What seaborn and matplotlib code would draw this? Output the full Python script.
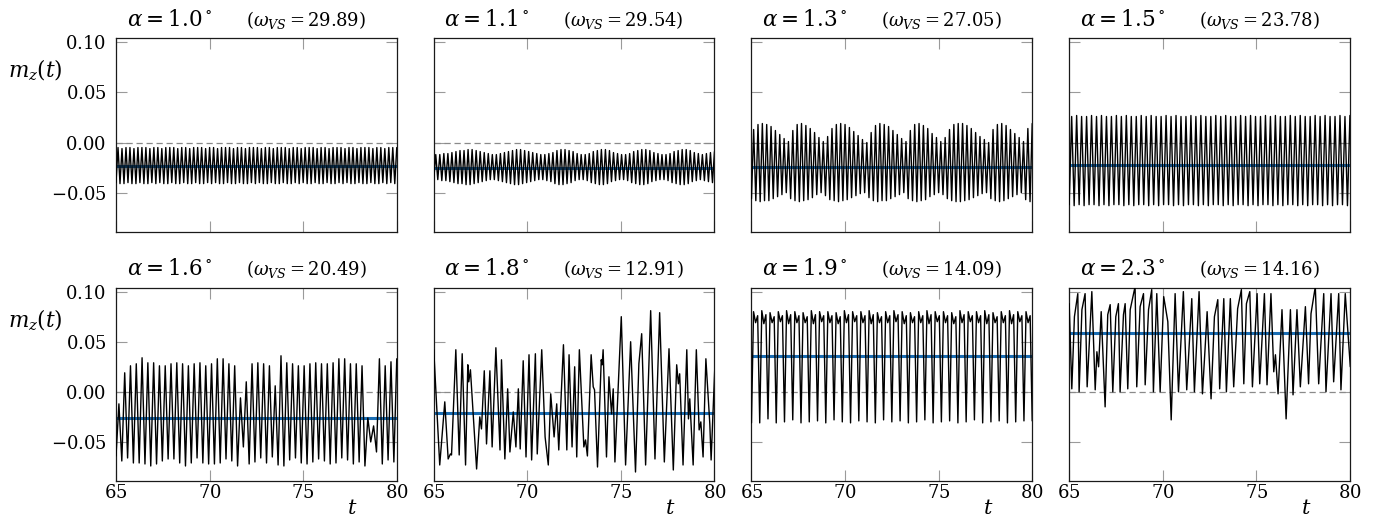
import numpy as np
import matplotlib
matplotlib.use("Agg")
import matplotlib.pyplot as plt
import seaborn as sns
from matplotlib.ticker import FuncFormatter

# ---------------- data ----------------
alphas = ["1.0", "1.1", "1.3", "1.5", "1.6", "1.8", "1.9", "2.3"]
omegas = ["29.89", "29.54", "27.05", "23.78", "20.49", "12.91", "14.09", "14.16"]
mean_levels = [-0.023, -0.025, -0.024, -0.022, -0.026, -0.021, 0.036, 0.059]
x_ticks = [65, 70, 75, 80]
y_ticks = [-0.05, 0.0, 0.05, 0.10]

# alpha = 1.0 : peak / trough values of each cycle
p1_peaks = [-0.005, -0.006, -0.005, -0.005, -0.006, -0.005, -0.005, -0.005, -0.006, -0.005,
            -0.005, -0.006, -0.005, -0.005, -0.005, -0.006, -0.005, -0.005, -0.006, -0.005,
            -0.005, -0.005, -0.006, -0.005, -0.005, -0.006, -0.005, -0.005, -0.005, -0.006,
            -0.005, -0.005, -0.006, -0.005, -0.005, -0.005, -0.006, -0.005, -0.005, -0.006,
            -0.005, -0.005, -0.005, -0.006, -0.005, -0.005, -0.006, -0.005, -0.005, -0.005,
            -0.006, -0.005, -0.005, -0.006, -0.005, -0.005, -0.005, -0.006, -0.005, -0.005,
            -0.006, -0.005, -0.005, -0.005, -0.006, -0.005, -0.005, -0.006, -0.005, -0.005,
            -0.005]
p1_troughs = [-0.040, -0.041, -0.041, -0.040, -0.041, -0.041, -0.040, -0.041, -0.041, -0.040,
              -0.041, -0.040, -0.041, -0.041, -0.040, -0.041, -0.041, -0.040, -0.041, -0.041,
              -0.040, -0.041, -0.041, -0.040, -0.041, -0.040, -0.041, -0.041, -0.040, -0.041,
              -0.041, -0.040, -0.041, -0.041, -0.040, -0.041, -0.040, -0.041, -0.041, -0.040,
              -0.041, -0.041, -0.040, -0.041, -0.041, -0.040, -0.041, -0.040, -0.041, -0.041,
              -0.040, -0.041, -0.041, -0.040, -0.041, -0.041, -0.040, -0.041, -0.040, -0.041,
              -0.041, -0.040, -0.041, -0.041, -0.040, -0.041, -0.041, -0.040, -0.041, -0.040,
              -0.041]

# alpha = 1.1
p2_peaks = [-0.012, -0.012, -0.011, -0.011, -0.010, -0.009, -0.008, -0.008, -0.007, -0.007,
            -0.008, -0.009, -0.010, -0.011, -0.012, -0.012, -0.011, -0.010, -0.009, -0.008,
            -0.007, -0.007, -0.008, -0.009, -0.010, -0.011, -0.012, -0.012, -0.011, -0.010,
            -0.008, -0.007, -0.007, -0.008, -0.009, -0.011, -0.012, -0.012, -0.011, -0.009,
            -0.008, -0.007, -0.007, -0.008, -0.010, -0.011, -0.012, -0.012, -0.011, -0.009,
            -0.008, -0.007, -0.007, -0.008, -0.010, -0.011, -0.012, -0.012, -0.011, -0.009,
            -0.008, -0.007, -0.007, -0.008, -0.010, -0.011, -0.012, -0.011, -0.010, -0.009]
p2_troughs = [-0.037, -0.037, -0.038, -0.038, -0.039, -0.040, -0.041, -0.041, -0.042, -0.042,
              -0.041, -0.040, -0.039, -0.038, -0.037, -0.037, -0.038, -0.039, -0.040, -0.041,
              -0.042, -0.042, -0.041, -0.040, -0.039, -0.038, -0.037, -0.037, -0.038, -0.039,
              -0.041, -0.042, -0.042, -0.041, -0.040, -0.038, -0.037, -0.037, -0.038, -0.040,
              -0.041, -0.042, -0.042, -0.041, -0.039, -0.038, -0.037, -0.037, -0.038, -0.040,
              -0.041, -0.042, -0.042, -0.041, -0.039, -0.038, -0.037, -0.037, -0.038, -0.040,
              -0.041, -0.042, -0.042, -0.041, -0.039, -0.038, -0.037, -0.038, -0.039, -0.040]

# alpha = 1.3 (beating amplitude)
p3_peaks = [0.013, 0.018, 0.019, 0.018, 0.016, 0.012, 0.008, 0.004, 0.001,
            0.012, 0.018, 0.019, 0.017, 0.014, 0.010, 0.005, 0.001,
            0.006, 0.014, 0.018, 0.019, 0.018, 0.015, 0.011, 0.007, 0.003, 0.000,
            0.010, 0.017, 0.019, 0.018, 0.016, 0.012, 0.008, 0.004, 0.001,
            0.012, 0.018, 0.019, 0.017, 0.014, 0.009, 0.005, 0.001,
            0.005, 0.013, 0.018, 0.019, 0.019, 0.017, 0.014, 0.010, 0.006, 0.003, 0.000,
            0.013, 0.018, 0.019, 0.017, 0.013, 0.009, 0.005, 0.001,
            0.014, 0.019]
p3_troughs = [-0.056, -0.058, -0.059, -0.058, -0.058, -0.056, -0.054, -0.052, -0.050,
              -0.056, -0.058, -0.059, -0.058, -0.057, -0.055, -0.052, -0.050,
              -0.053, -0.057, -0.058, -0.059, -0.058, -0.057, -0.055, -0.053, -0.051, -0.050,
              -0.055, -0.058, -0.059, -0.058, -0.058, -0.056, -0.054, -0.052, -0.050,
              -0.056, -0.058, -0.059, -0.058, -0.057, -0.054, -0.052, -0.050,
              -0.052, -0.056, -0.058, -0.059, -0.059, -0.058, -0.057, -0.055, -0.053, -0.051, -0.050,
              -0.056, -0.058, -0.059, -0.058, -0.056, -0.054, -0.052, -0.050,
              -0.057, -0.059]

# alpha = 1.5
p4_peaks = [0.026, 0.027, 0.026, 0.026, 0.027, 0.026, 0.027, 0.026, 0.026, 0.027,
            0.026, 0.027, 0.026, 0.026, 0.027, 0.026, 0.027, 0.026, 0.026, 0.027,
            0.026, 0.027, 0.026, 0.026, 0.027, 0.026, 0.027, 0.026, 0.026, 0.027,
            0.026, 0.027, 0.026, 0.026, 0.027, 0.026, 0.027, 0.026, 0.026, 0.027,
            0.026, 0.027, 0.026, 0.026, 0.027, 0.026, 0.027, 0.026, 0.026, 0.027,
            0.026, 0.027, 0.026, 0.026, 0.027, 0.026, 0.027]
p4_troughs = [-0.062, -0.063, -0.062, -0.063, -0.062, -0.062, -0.063, -0.062, -0.063, -0.062,
              -0.062, -0.063, -0.062, -0.063, -0.062, -0.062, -0.063, -0.062, -0.063, -0.062,
              -0.062, -0.063, -0.062, -0.063, -0.062, -0.062, -0.063, -0.062, -0.063, -0.062,
              -0.062, -0.063, -0.062, -0.063, -0.062, -0.062, -0.063, -0.062, -0.063, -0.062,
              -0.062, -0.063, -0.062, -0.063, -0.062, -0.062, -0.063, -0.062, -0.063, -0.062,
              -0.062, -0.063, -0.062, -0.063, -0.062, -0.062, -0.063]

# alpha = 1.6
p5_peaks = [-0.012, 0.019, 0.026, 0.028, 0.034, 0.029, 0.029, 0.026, 0.026, 0.028,
            0.029, 0.028, 0.026, 0.028, 0.029, 0.026, 0.028, 0.033, 0.033, 0.028,
            0.026, -0.006, 0.010, 0.028, 0.029, 0.028, 0.026, 0.006, 0.036, 0.029,
            0.028, 0.026, 0.026, 0.028, 0.029, 0.028, 0.028, 0.029, 0.033, 0.033,
            0.028, 0.028, 0.026, -0.026, -0.034, 0.033, 0.026, 0.030, 0.033]
p5_troughs = [-0.064, -0.069, -0.066, -0.071, -0.071, -0.072, -0.074, -0.072, -0.069, -0.067,
              -0.067, -0.071, -0.074, -0.071, -0.066, -0.071, -0.072, -0.072, -0.071, -0.067,
              -0.069, -0.074, -0.055, -0.072, -0.070, -0.066, -0.071, -0.065, -0.073, -0.074,
              -0.068, -0.066, -0.071, -0.072, -0.070, -0.067, -0.069, -0.072, -0.071, -0.066,
              -0.068, -0.072, -0.070, -0.074, -0.050, -0.060, -0.072, -0.068, -0.070]

# alpha = 1.8 (irregular: time / value of each turning point)
p6_t = [65.00, 65.32, 65.59, 65.77, 65.89, 65.95, 66.18, 66.36, 66.52, 66.70,
        66.82, 66.87, 66.96, 67.29, 67.46, 67.55, 67.70, 67.82, 68.00, 68.12,
        68.32, 68.54, 68.62, 68.80, 68.95, 69.07, 69.25, 69.39, 69.52, 69.62,
        69.78, 69.93, 70.09, 70.23, 70.43, 70.53, 70.77, 70.95, 71.12, 71.25,
        71.43, 71.57, 71.68, 71.93, 72.11, 72.23, 72.39, 72.53, 72.64, 72.78,
        73.02, 73.11, 73.21, 73.41, 73.52, 73.59, 73.75, 73.95, 74.00, 74.05,
        74.23, 74.36, 74.50, 74.59, 74.68, 75.02, 75.25, 75.52, 75.78, 75.96,
        76.11, 76.32, 76.59, 76.82, 77.07, 77.32, 77.57, 77.80, 77.98, 78.07,
        78.14, 78.32, 78.52, 78.61, 78.68, 78.86, 79.03, 79.18, 79.27, 79.39,
        79.54, 79.75, 79.82, 80.04]
p6_y = [0.042, -0.073, -0.010, -0.067, -0.062, -0.063, 0.042, -0.063, 0.038, -0.073,
        0.027, 0.010, 0.022, -0.077, -0.025, -0.037, 0.021, -0.052, 0.021, -0.055,
        0.044, -0.058, 0.032, -0.067, 0.003, -0.060, -0.020, -0.055, 0.003, -0.057,
        0.031, -0.065, 0.037, -0.068, 0.038, -0.062, 0.042, -0.045, -0.073, -0.002,
        -0.045, -0.012, -0.058, 0.047, -0.058, 0.037, -0.055, 0.025, -0.065, 0.042,
        -0.055, -0.048, -0.064, 0.037, 0.005, 0.002, -0.075, 0.032, 0.027, 0.042,
        -0.065, 0.015, -0.022, 0.003, -0.070, 0.075, -0.073, 0.050, -0.080, 0.028,
        0.058, -0.073, 0.081, -0.067, 0.079, -0.070, 0.043, -0.078, 0.027, 0.008,
        0.018, -0.073, 0.042, -0.027, -0.007, -0.073, 0.042, -0.038, -0.030, -0.065,
        0.033, -0.032, -0.068, 0.035]

# alpha = 1.9 : trough, peak, notch, shoulder of each cycle
p7_troughs = [-0.031, -0.031, -0.027, -0.031, -0.030, -0.028, -0.031, -0.030, -0.029, -0.031,
              -0.028, -0.030, -0.031, -0.029, -0.030, -0.031, -0.028, -0.030, -0.029, -0.031,
              -0.030, -0.028, -0.031, -0.030, -0.029, -0.031, -0.030, -0.028, -0.031, -0.030,
              -0.029, -0.031, -0.030, -0.029, -0.029]
p7_peaks = [0.080, 0.081, 0.079, 0.080, 0.081, 0.080, 0.079, 0.081, 0.080, 0.080,
            0.079, 0.081, 0.080, 0.080, 0.081, 0.079, 0.080, 0.081, 0.080, 0.079,
            0.080, 0.081, 0.080, 0.080, 0.079, 0.081, 0.080, 0.080, 0.081, 0.079,
            0.080, 0.081, 0.080, 0.080]
p7_notch = [0.069, 0.068, 0.069, 0.070, 0.068, 0.069, 0.069, 0.068, 0.070, 0.069,
            0.068, 0.069, 0.070, 0.069, 0.068, 0.069, 0.069, 0.070, 0.068, 0.069,
            0.069, 0.068, 0.070, 0.069, 0.068, 0.069, 0.070, 0.069, 0.068, 0.069,
            0.069, 0.068, 0.070, 0.069]
p7_shoulder = [0.076, 0.077, 0.075, 0.076, 0.077, 0.076, 0.075, 0.077, 0.076, 0.076,
               0.075, 0.077, 0.076, 0.076, 0.077, 0.075, 0.076, 0.077, 0.076, 0.075,
               0.076, 0.077, 0.076, 0.076, 0.075, 0.077, 0.076, 0.076, 0.077, 0.075,
               0.076, 0.077, 0.076, 0.076]

# alpha = 2.3 (irregular)
p8_t = [65.00, 65.14, 65.28, 65.46, 65.53, 65.68, 65.85, 65.96, 66.21, 66.39,
        66.48, 66.57, 66.71, 66.92, 67.06, 67.19, 67.33, 67.49, 67.63, 67.72,
        67.90, 67.99, 68.13, 68.26, 68.52, 68.61, 68.79, 68.97, 69.06, 69.24,
        69.41, 69.50, 69.68, 69.86, 70.05, 70.27, 70.45, 70.66, 70.84, 71.10,
        71.28, 71.55, 71.69, 71.94, 72.12, 72.26, 72.37, 72.58, 72.76, 72.94,
        73.04, 73.26, 73.40, 73.61, 73.79, 74.00, 74.20, 74.33, 74.47, 74.65,
        74.79, 75.04, 75.18, 75.43, 75.57, 75.78, 75.93, 76.02, 76.16, 76.37,
        76.59, 76.82, 76.96, 77.17, 77.35, 77.62, 77.79, 77.92, 78.15, 78.33,
        78.60, 78.72, 78.99, 79.13, 79.40, 79.52, 79.75, 80.02]
p8_y = [0.088, 0.003, 0.075, 0.098, 0.000, 0.082, 0.098, 0.005, 0.100, 0.002,
        0.040, 0.025, 0.080, -0.015, 0.077, 0.087, 0.000, 0.075, 0.088, 0.000,
        0.077, 0.088, 0.003, 0.082, 0.105, 0.005, 0.085, 0.098, 0.007, 0.082,
        0.102, 0.000, 0.098, 0.000, 0.095, 0.070, -0.028, 0.098, 0.000, 0.100,
        0.002, 0.093, 0.000, 0.100, -0.002, 0.043, 0.080, -0.007, 0.075, 0.092,
        0.003, 0.093, 0.000, 0.093, 0.005, 0.083, 0.102, 0.008, 0.088, 0.100,
        0.005, 0.098, 0.008, 0.098, 0.007, 0.098, 0.020, 0.037, -0.002, 0.082,
        -0.027, 0.082, -0.003, 0.082, 0.005, 0.085, 0.008, 0.078, 0.105, 0.008,
        0.098, 0.000, 0.098, 0.010, 0.098, 0.002, 0.098, 0.025]


# ---------------- assemble series ----------------
def interleave(troughs, peaks):
    seq = []
    for tr, pk in zip(troughs, peaks):
        seq += [tr, pk]
    return seq


def regular_series(values):
    return np.linspace(65.0, 80.0, len(values)), np.array(values)


series = []
series.append(regular_series(interleave(p1_troughs, p1_peaks)))
series.append(regular_series(interleave(p2_troughs, p2_peaks)))
series.append(regular_series(interleave(p3_troughs, p3_peaks)))
series.append(regular_series(interleave(p4_troughs, p4_peaks)))
series.append(regular_series(interleave(p5_troughs, p5_peaks)))
series.append((np.array(p6_t), np.array(p6_y)))
seq7 = []
for i in range(len(p7_peaks)):
    seq7 += [p7_troughs[i], p7_peaks[i], p7_notch[i], p7_shoulder[i]]
seq7.append(p7_troughs[-1])
series.append(regular_series(seq7))
series.append((np.array(p8_t), np.array(p8_y)))

# ---------------- styling ----------------
sns.set_theme(style="ticks")
plt.rcParams["font.family"] = ["DejaVu Serif"]
plt.rcParams["mathtext.fontset"] = "dejavuserif"
plt.rcParams["text.color"] = "black"
plt.rcParams["xtick.labelcolor"] = "black"
plt.rcParams["ytick.labelcolor"] = "black"

BLUE = "#1a6db3"
fig, axes = plt.subplots(2, 4, figsize=(13.73, 5.18), dpi=100, sharex=True, sharey=True)
fig.subplots_adjust(left=0.0845, right=0.9832, top=0.926, bottom=0.0714,
                    wspace=0.1317, hspace=0.289)

yfmt = FuncFormatter(lambda v, p: r"$%.2f$" % (0.0 if abs(v) < 1e-9 else v))
xfmt = FuncFormatter(lambda v, p: r"$%d$" % int(round(v)))

for k, ax in enumerate(axes.flat):
    row, col = divmod(k, 4)
    t, y = series[k]
    ax.axhline(0.0, color="#8a8a8a", lw=0.9, ls=(0, (5, 3)), zorder=1)
    ax.axhline(mean_levels[k], color=BLUE, lw=2.2, zorder=2)
    sns.lineplot(x=t, y=y, ax=ax, color="black", linewidth=1.0,
                 estimator=None, sort=False, zorder=3)
    ax.set_xlim(65, 80)
    ax.set_ylim(-0.089, 0.104)
    ax.set_xticks(x_ticks)
    ax.set_yticks(y_ticks)
    ax.xaxis.set_major_formatter(xfmt)
    ax.yaxis.set_major_formatter(yfmt)
    ax.tick_params(direction="in", length=8, width=0.8, color="#9a9a9a",
                   labelcolor="black", top=True, right=True, labelsize=13,
                   labelleft=(col == 0), labelbottom=(row == 1))
    ax.tick_params(axis="x", pad=2)
    ax.tick_params(axis="y", pad=7)
    ax.set_xlabel("")
    ax.set_ylabel("")
    for s in ax.spines.values():
        s.set_color("#1a1a1a")
        s.set_linewidth(0.9)
    ax.text(0.19, 1.065, r"$\alpha = %s^\circ$" % alphas[k], transform=ax.transAxes,
            ha="center", va="baseline", fontsize=15.5, color="black")
    ax.text(0.677, 1.065, r"$(\omega_{VS} = %s)$" % omegas[k], transform=ax.transAxes,
            ha="center", va="baseline", fontsize=13, color="black")
    if col == 0:
        ax.text(-0.385, 0.832, r"$m_z(t)$", transform=ax.transAxes,
                ha="left", va="center", fontsize=15.5, color="black")
    if row == 1:
        ax.text(0.843, -0.14, r"$t$", transform=ax.transAxes,
                ha="center", va="center", fontsize=15, color="black")

fig.savefig("out.png", dpi=100)
